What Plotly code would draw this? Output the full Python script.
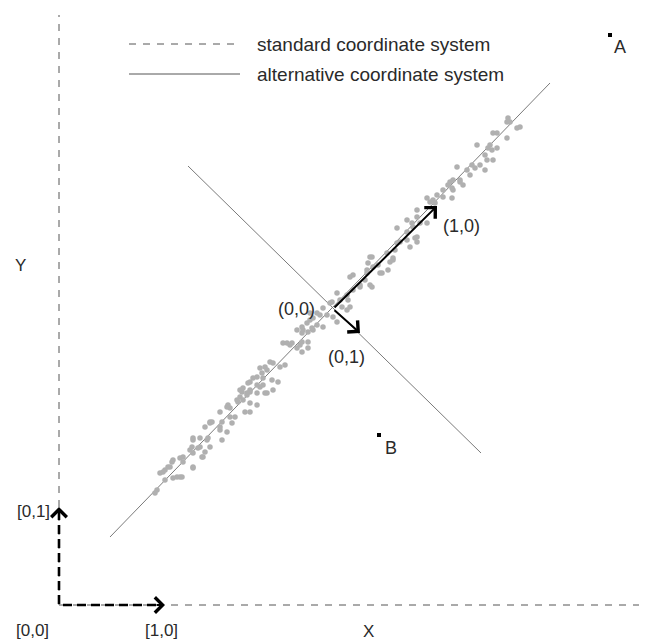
import plotly.graph_objects as go

# Sample points (standard coordinates, origin at the [0,0] corner)
points_x = [181, 188, 191, 198, 206, 179, 191, 198, 169, 171, 161, 186, 191, 176, 153, 163, 173,
            146, 151, 161, 168, 134, 141, 149, 151, 163, 133, 139, 134, 146, 143, 121, 124, 113,
            109, 134, 104, 118, 123, 106, 114, 98, 96,
            261, 268, 254, 248, 243, 253, 238, 243, 249, 258, 264, 274, 278, 228, 233, 243, 249,
            238, 243, 249, 211, 226, 221, 201, 203, 208, 194, 204, 213, 219, 189, 198, 204, 184,
            183, 191, 208, 214,
            278, 288, 283, 291, 264, 251,
            371, 376, 358, 353, 361, 368, 338, 348, 356, 358, 341, 351, 336, 313, 309, 331, 334,
            319, 329, 308, 294, 291, 323, 306, 313, 294, 301, 289, 273,
            449, 451, 458, 461, 438, 448, 418, 431, 429, 438, 434, 426, 413, 421, 398, 426, 408,
            411, 394, 401, 404, 389, 393, 384, 378, 393, 368,
            448, 434, 433, 428, 416, 401, 391, 394, 384, 374, 358, 354, 348, 338, 348, 358,
            328, 334, 311, 314, 308, 321, 311, 301, 281, 288, 271, 258, 251, 244, 254, 224,
            231, 241, 206, 214, 198, 191, 181, 188, 201, 178, 184, 168, 171, 151, 161, 134,
            148, 141, 131, 124, 114, 111, 106, 101, 121, 134, 144]
points_y = [208, 210, 213, 212, 212, 203, 202, 200, 200, 197, 193, 193, 193, 188, 183, 183, 182,
            178, 182, 175, 173, 165, 167, 167, 158, 165, 158, 157, 152, 153, 148, 147, 143, 143,
            138, 137, 133, 128, 128, 125, 127, 115, 112,
            290, 290, 287, 282, 278, 277, 275, 272, 273, 280, 278, 288, 283, 262, 262, 263, 263,
            257, 253, 257, 243, 240, 238, 237, 232, 235, 227, 227, 225, 223, 222, 220, 220, 217,
            213, 215, 212, 215,
            312, 310, 298, 298, 297, 292,
            403, 402, 395, 382, 382, 382, 377, 373, 367, 363, 363, 358, 355, 348, 342, 343, 347,
            340, 335, 335, 330, 328, 332, 325, 318, 315, 320, 305, 303,
            487, 483, 477, 478, 472, 467, 460, 460, 457, 457, 445, 450, 440, 440, 438, 435, 435,
            430, 425, 425, 420, 420, 417, 415, 410, 407, 407,
            483, 472, 455, 445, 437, 423, 423, 415, 408, 405, 388, 378, 385, 362, 365, 368,
            352, 345, 348, 338, 332, 332, 320, 318, 305, 295, 302, 292, 285, 275, 275, 262,
            260, 260, 238, 242, 228, 223, 215, 212, 218, 205, 205, 198, 188, 183, 178, 167,
            165, 158, 155, 148, 145, 138, 135, 132, 128, 138, 148]

# Alternative coordinate system
main_axis_x = [51, 491]
main_axis_y = [68, 522]
perp_axis_x = [129, 422]
perp_axis_y = [439, 152]
alt_origin = (274, 296)
alt_unit_1 = (378, 399)
alt_unit_2 = (301, 272)

# Standard coordinate system
std_x_axis_end = 588
std_y_axis_end = 590
std_unit_x = (106, 0)
std_unit_y = (0, 98)

point_a = (551, 570)
point_b = (320, 170)

FONT = "Liberation Sans, Arial, sans-serif"
TEXT = "#2a2a2a"

fig = go.Figure()

# standard axes (thin dashed)
fig.add_trace(go.Scatter(x=[0, 0], y=[0, std_y_axis_end], mode="lines",
                         line=dict(color="#555", width=1, dash="7px,7px")))
fig.add_trace(go.Scatter(x=[0, std_x_axis_end], y=[0, 0], mode="lines",
                         line=dict(color="#555", width=1, dash="7px,7px")))

# bold dashed unit vectors
fig.add_trace(go.Scatter(x=[0, 0, std_unit_x[0] - 4], y=[std_unit_y[1] - 4, 0, 0], mode="lines",
                         line=dict(color="black", width=2.6, dash="9px,5px")))

# alternative axes
fig.add_trace(go.Scatter(x=main_axis_x, y=main_axis_y, mode="lines",
                         line=dict(color="#7a7a7a", width=1)))
fig.add_trace(go.Scatter(x=perp_axis_x, y=perp_axis_y, mode="lines",
                         line=dict(color="#7a7a7a", width=1)))

# data cloud
fig.add_trace(go.Scatter(x=points_x, y=points_y, mode="markers",
                         marker=dict(color="#b0b0b0", size=5.5, line=dict(width=0))))

# A and B
fig.add_trace(go.Scatter(x=[point_a[0], point_b[0]], y=[point_a[1], point_b[1]], mode="markers",
                         marker=dict(color="black", size=4, symbol="square", line=dict(width=0))))

annotations = []


def arrow(tip, start, width, head_size):
    annotations.append(dict(x=tip[0], y=tip[1], ax=start[0], ay=start[1], xref="x", yref="y",
                            axref="x", ayref="y", text="", showarrow=True, arrowhead=4,
                            arrowwidth=width, arrowsize=head_size, arrowcolor="black",
                            standoff=0, startstandoff=0))


arrow(alt_unit_1, alt_origin, 2, 1.5)
arrow(alt_unit_2, alt_origin, 2, 1.5)
arrow(std_unit_x, (std_unit_x[0] - 10, 0), 2, 1.5)
arrow(std_unit_y, (0, std_unit_y[1] - 10), 2, 1.5)


def label(x, y, txt, size=18, xanchor="center"):
    annotations.append(dict(x=x, y=y, xref="x", yref="y", text=txt, showarrow=False,
                            xanchor=xanchor, yanchor="middle",
                            font=dict(family=FONT, size=size, color=TEXT)))


label(402, 379, "(1,0)")
label(237, 296, "(0,0)")
label(287, 248, "(0,1)")
label(561, 558, "A")
label(332, 157, "B")
label(-26, 94, "[0,1]", 17)
label(-27, -25, "[0,0]", 17)
label(102, -25, "[1,0]", 17)
label(309, -26, "X", 17)
label(-39, 340, "Y", 17)

# legend
fig.add_trace(go.Scatter(x=[70, 181], y=[561, 561], mode="lines",
                         line=dict(color="#555", width=1, dash="7px,7px")))
fig.add_trace(go.Scatter(x=[70, 181], y=[531, 531], mode="lines",
                         line=dict(color="#555", width=1)))
label(196, 561, "standard coordinate system", 19, "left")
label(196, 531, "alternative coordinate system", 19, "left")

# the page has an 8px body margin, so the figure starts at (8, 8)
fig.update_layout(
    width=639, height=633,
    margin=dict(l=0, r=0, t=0, b=0),
    paper_bgcolor="white", plot_bgcolor="white",
    showlegend=False,
    annotations=annotations,
    xaxis=dict(range=[-51, 588], visible=False, fixedrange=True),
    yaxis=dict(range=[-36, 597], visible=False, fixedrange=True),
)

fig.write_html("out.html")
